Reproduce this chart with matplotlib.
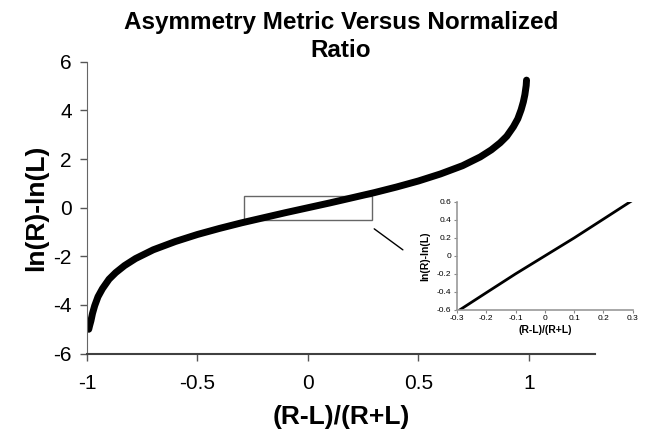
import matplotlib.pyplot as plt
from matplotlib.patches import Rectangle

plt.rcParams['font.family'] = ['Liberation Sans', 'DejaVu Sans']
plt.rcParams['axes.unicode_minus'] = False

# values
ratio = [-0.992, -0.988, -0.982, -0.975, -0.965, -0.95, -0.93, -0.9, -0.87, -0.83,
         -0.78, -0.7, -0.6, -0.5, -0.4, -0.3, -0.2, -0.1, 0.0, 0.1, 0.2, 0.3, 0.4,
         0.5, 0.6, 0.7, 0.78, 0.83, 0.87, 0.9, 0.93, 0.95, 0.965, 0.975, 0.982,
         0.988, 0.9895]
asym = [-5.0, -4.85, -4.65, -4.35, -4.03, -3.66, -3.33, -2.94, -2.67, -2.38,
        -2.09, -1.73, -1.39, -1.1, -0.85, -0.62, -0.41, -0.2, 0.0, 0.2, 0.41, 0.62, 0.85,
        1.1, 1.39, 1.73, 2.09, 2.38, 2.67, 2.94, 3.33, 3.66, 4.03, 4.35, 4.65,
        5.03, 5.25]

# zoomed-in part
ratio_zoom = [-0.29, -0.2, -0.1, 0.0, 0.1, 0.2, 0.295]
asym_zoom = [-0.6, -0.41, -0.2, 0.0, 0.2, 0.41, 0.61]

x_ticks = [-1, -0.5, 0, 0.5, 1]
x_tick_labels = ['-1', '-0.5', '0', '0.5', '1']
y_ticks = [-6, -4, -2, 0, 2, 4, 6]
zx_ticks = [-0.3, -0.2, -0.1, 0, 0.1, 0.2, 0.3]
zx_tick_labels = ['-0.3', '-0.2', '-0.1', '0', '0.1', '0.2', '0.3']
zy_ticks = [-0.6, -0.4, -0.2, 0, 0.2, 0.4, 0.6]
zy_tick_labels = ['-0.6', '-0.4', '-0.2', '0', '0.2', '0.4', '0.6']

fig = plt.figure(figsize=(6.49, 4.42), dpi=100)
ax = fig.add_axes([0.134, 0.2, 0.783, 0.66])

ax.plot(ratio, asym, color='black', lw=5, solid_capstyle='round', solid_joinstyle='round')
ax.set_xlim(-1, 1.3)
ax.set_ylim(-6, 6)
ax.set_xticks(x_ticks)
ax.set_xticklabels(x_tick_labels)
ax.set_yticks(y_ticks)
ax.tick_params(labelsize=15, color='#555555', length=5, width=1, pad=10)
ax.tick_params(axis='y', pad=6)
for s in ['top', 'right']:
    ax.spines[s].set_visible(False)
ax.spines['left'].set_color('#666666')
ax.spines['bottom'].set_color('#404040')
ax.spines['bottom'].set_linewidth(1.5)
ax.set_xlabel('(R-L)/(R+L)', fontsize=19, fontweight='bold', labelpad=8)
ax.set_ylabel('ln(R)-ln(L)', fontsize=19, fontweight='bold', labelpad=4)
ax.set_title('Asymmetry Metric Versus Normalized\nRatio', fontsize=17.5, fontweight='bold',
             linespacing=1.25, pad=-2)

# box around zoomed region + connector
ax.add_patch(Rectangle((-0.29, -0.5), 0.58, 1.0, fill=False, edgecolor='#666666', lw=1))
ax.annotate('', xy=(0.44, -1.8), xytext=(0.29, -0.8),
            arrowprops=dict(arrowstyle='-', color='black', lw=1))

# inset
axi = fig.add_axes([0.704, 0.299, 0.271, 0.244])
axi.plot(ratio_zoom, asym_zoom, color='black', lw=2)
axi.set_xlim(-0.3, 0.3)
axi.set_ylim(-0.6, 0.6)
axi.set_xticks(zx_ticks)
axi.set_xticklabels(zx_tick_labels)
axi.set_yticks(zy_ticks)
axi.set_yticklabels(zy_tick_labels)
axi.tick_params(labelsize=6, color='#888888', length=2, width=0.8, pad=2)
for s in ['top', 'right']:
    axi.spines[s].set_visible(False)
for s in ['left', 'bottom']:
    axi.spines[s].set_color('#999999')
    axi.spines[s].set_linewidth(1.2)
axi.set_xlabel('(R-L)/(R+L)', fontsize=7.5, fontweight='bold', labelpad=2)
axi.set_ylabel('ln(R)-ln(L)', fontsize=7.5, fontweight='bold')
axi.yaxis.set_label_coords(-0.15, 0.5)
axi.patch.set_alpha(0)

fig.savefig('out.png', dpi=100)
